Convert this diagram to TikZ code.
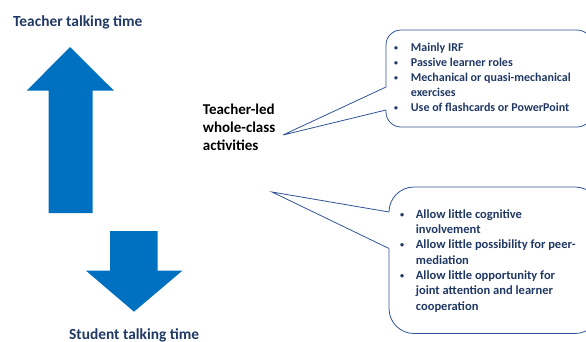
\documentclass[tikz,border=0pt]{standalone}
\usepackage{fontspec}
\setmainfont{Carlito}
\usepackage{array}
\usepackage{graphicx}
\definecolor{arrowblue}{HTML}{0070C0}
\definecolor{navy}{HTML}{203864}
\definecolor{boxline}{HTML}{2F5496}
\newcommand\smbul{\raisebox{0.15ex}{\scalebox{0.65}{\textbullet}}}
\begin{document}
\begin{tikzpicture}[x=1pt,y=-1pt,
  bigarrow/.style={fill=arrowblue,draw=none},
  calloutline/.style={draw=boxline,line width=0.8pt},
  heading/.style={inner sep=0pt,anchor=base west,text=navy,font=\fontsize{15.4}{18}\selectfont\bfseries},
  listtext/.style={inner sep=0pt,anchor=base west,text=navy,font=\bfseries}
]
\useasboundingbox (0,0) rectangle (586,341);
% arrows
\path[bigarrow] (70,47) -- (114,90.7) -- (92.7,90.7) -- (92.7,213) -- (48.7,213) -- (48.7,90.7) -- (26.7,90.7) -- cycle;
\path[bigarrow] (110,231) -- (157.7,231) -- (157.7,270.7) -- (182.3,270.7) -- (134,311.7) -- (86,270.7) -- (110,270.7) -- cycle;
% headings
\node[heading] (ttt) at (13,26) {Teacher talking time};
\node[heading] (stt) at (69,339) {Student talking time};
% centre text
\node[inner sep=0pt,anchor=base west,align=left,font=\fontsize{15}{18}\selectfont\bfseries] (tl) at (202.7,150.7) {Teacher-led\\whole-class\\activities};
% top callout
\coordinate (t1) at (386,87);
\coordinate (t2) at (386,110);
\coordinate (ttip) at (283,135);
\draw[calloutline,rounded corners=15pt] (t2) -- (386,127) -- (592,127) -- (592,30) -- (386,30) -- (t1);
\draw[calloutline] (t1) -- (ttip) -- (t2);
% bottom callout
\coordinate (b1) at (389,212);
\coordinate (b2) at (389,248.5);
\coordinate (btip) at (272,192);
\draw[calloutline,rounded corners=25pt] (b2) -- (389,333.5) -- (600,333.5) -- (600,187) -- (389,187) -- (b1);
\draw[calloutline] (b1) -- (btip) -- (b2);
% lists
\node[listtext] (toplist) at (394,51.7) {\fontsize{12}{15}\selectfont
\begin{tabular}[t]{@{}p{16.7pt}@{}l@{}}
\smbul & Mainly IRF\\
\smbul & Passive learner roles\\
\smbul & Mechanical or quasi-mechanical\\
 & exercises\\
\smbul & Use of flashcards or PowerPoint
\end{tabular}};
\node[listtext] (botlist) at (400,218.3) {\fontsize{12.5}{15.3}\selectfont
\begin{tabular}[t]{@{}p{15.7pt}@{}l@{}}
\smbul & Allow little cognitive\\
 & involvement\\
\smbul & Allow little possibility for peer-\\
 & mediation\\
\smbul & Allow little opportunity for\\
 & joint attention and learner\\
 & cooperation
\end{tabular}};
\end{tikzpicture}
\end{document}
